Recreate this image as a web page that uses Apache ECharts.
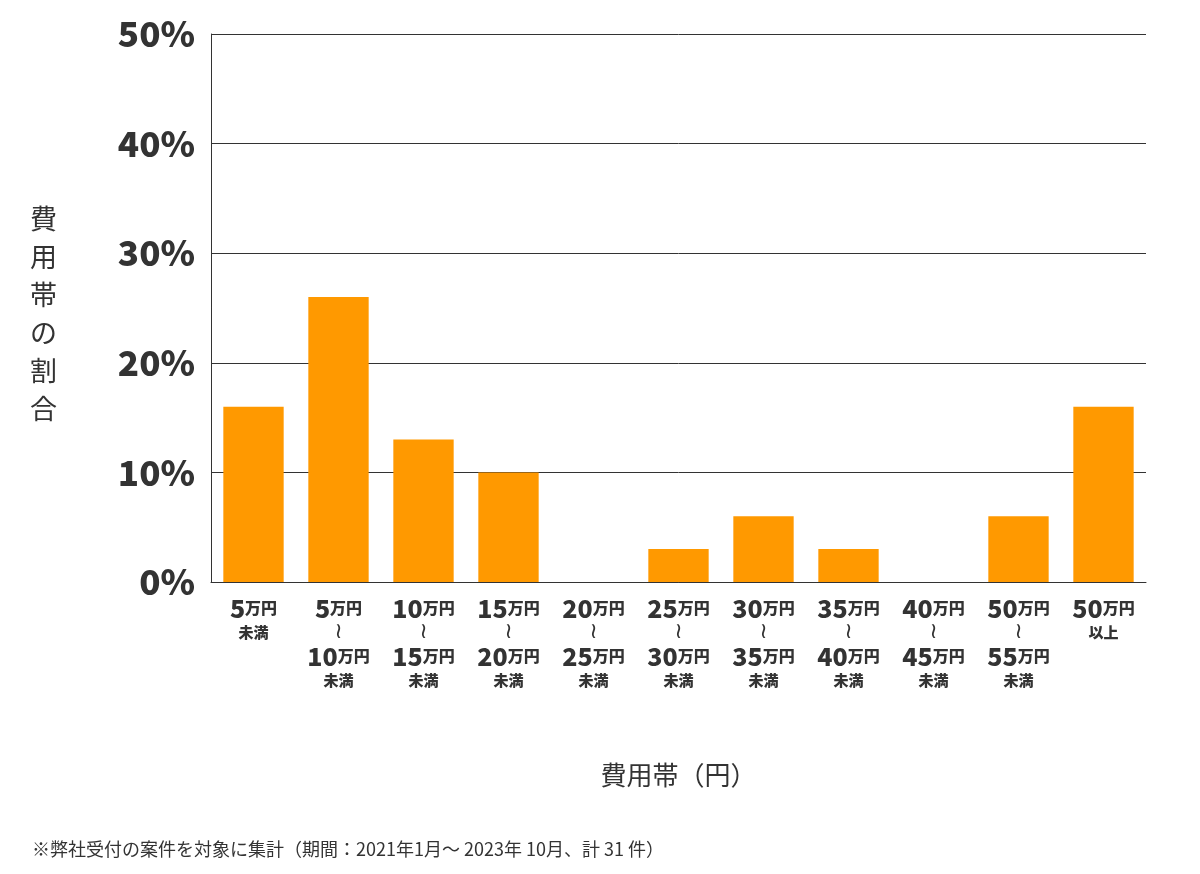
<!DOCTYPE html>
<html><head><meta charset="utf-8">
<script src="https://cdn.jsdelivr.net/npm/echarts@6/dist/echarts.min.js"></script>
<style>body{margin:0;background:#fff}#c{width:1200px;height:874px}</style>
</head><body><div id="c"></div>
<script>
const categories = ['5|','5|10','10|15','15|20','20|25','25|30','30|35','35|40','40|45','50|55','50|+'];
const values = [16, 26, 13, 10, 0, 3, 6, 3, 0, 6, 16];
const yTicks = [0, 10, 20, 30, 40, 50];
const font = '"Noto Sans CJK JP","Noto Sans",sans-serif';
const chart = echarts.init(document.getElementById('c'));
function fmt(v){
  const [a,b] = v.split('|');
  if (b === '') return '{n|'+a+'}{u|万円}\n{s|未満}';
  if (b === '+') return '{n|'+a+'}{u|万円}\n{s|以上}';
  return '{n|'+a+'}{u|万円}\n{w|≀}\n{n|'+b+'}{u|万円}\n{s|未満}';
}
chart.setOption({
  animation:false,
  grid:{left:211,right:54,top:34,bottom:292},
  xAxis:{type:'category',data:categories,
    axisLine:{lineStyle:{color:'#333',width:1}},axisTick:{show:false},
    axisLabel:{interval:0,margin:12,verticalAlign:'top',formatter:fmt,color:'#333',fontFamily:font,
      rich:{n:{fontSize:25,fontWeight:900,color:'#333',lineHeight:28,fontFamily:font},
            u:{fontSize:16,fontWeight:900,color:'#333',lineHeight:28,fontFamily:font},
            s:{fontSize:15,fontWeight:900,color:'#333',lineHeight:20,fontFamily:font},
            w:{fontSize:22,color:'#333',lineHeight:20,fontFamily:'DejaVu Sans'}}},
    name:'費用帯（円）',nameLocation:'middle',nameGap:180,
    nameTextStyle:{fontSize:26,color:'#333',fontFamily:font}},
  yAxis:{type:'value',min:0,max:50,interval:10,
    axisLine:{show:true,lineStyle:{color:'#333'}},axisTick:{show:false},
    splitLine:{lineStyle:{color:'#333',width:1}},
    axisLabel:{formatter:v=>yTicks.includes(v)?v+'%':'',fontSize:35,fontWeight:900,color:'#333',margin:16,fontFamily:font}},
  series:[{type:'bar',data:values,barCategoryGap:'29%',itemStyle:{color:'#ff9900'}}],
  graphic:[
    {type:'text',left:30,top:200,style:{text:'費\n用\n帯\nの\n割\n合',fontSize:27,lineHeight:38,fill:'#333',fontFamily:font,align:'center'}},
    {type:'text',left:32,top:840,style:{text:'※弊社受付の案件を対象に集計（期間：2021年1月～ 2023年 10月、計 31 件）',fontSize:18,fill:'#333',fontFamily:font}}
  ]
});
</script></body></html>
